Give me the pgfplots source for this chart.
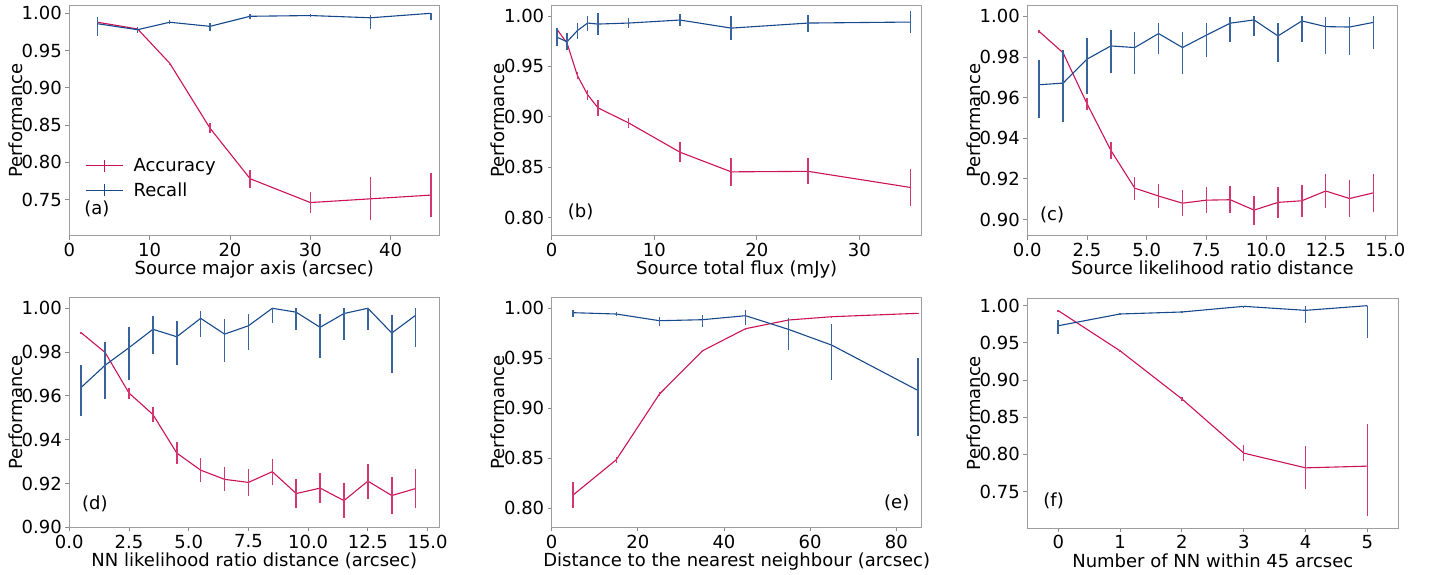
\documentclass[border=0pt]{standalone}
\usepackage{fontspec}
\setmainfont{DejaVu Sans}
\usepackage{pgfplots}
\pgfplotsset{compat=1.18}
\definecolor{accc}{RGB}{204,18,86}
\definecolor{recc}{RGB}{22,72,140}
\newcommand{\ff}{\fontsize{18}{21.6}\selectfont}
\pgfplotsset{
  perf/.style={scale only axis, width=370pt, height=230pt, anchor=north west,
    axis line style={draw=black!38, line width=0.8pt},
    tick style={black!45, line width=0.8pt}, major tick length=4pt, tick align=outside,
    xtick pos=lower, ytick pos=left,
    every tick label/.append style={font=\ff, black},
    label style={font=\ff},
    ylabel={Performance},
    ylabel style={at={(axis description cs:-0.127,0.5)}, anchor=base},
    xlabel style={at={(axis description cs:0.5,0)}, anchor=base, yshift=-39pt},
    yticklabel style={/pgf/number format/.cd, fixed, fixed zerofill, precision=2, assume math mode=true},
    xticklabel style={/pgf/number format/.cd, fixed, assume math mode=true},
  },
  acc/.style={color=accc, line width=1.1pt, mark=none,
    error bars/y dir=both, error bars/y explicit, error bars/error mark=none,
    error bars/error bar style={line width=1.5pt, accc!85}},
  rec/.style={color=recc, line width=1.1pt, mark=none,
    error bars/y dir=both, error bars/y explicit, error bars/error mark=none,
    error bars/error bar style={line width=1.5pt, recc!85}},
}
\pgfkeys{/pgfplots/table/tb/.style={x=x, y=y, y error plus=ep, y error minus=em}}
\begin{document}
\begin{tikzpicture}
\useasboundingbox (0,0) rectangle (1430pt,-574pt);
% (a)
\begin{axis}[perf, at={(69.3pt,-5.7pt)}, xmin=0, xmax=46.05, ymin=0.7015, ymax=1.0102,
  xtick={0,10,20,30,40}, ytick={0.75,0.80,0.85,0.90,0.95,1.00},
  xlabel={Source major axis (arcsec)},
  legend style={draw=none, fill=none, at={(axis description cs:0.035,0.355)}, anchor=north west,
    font=\ff, legend cell align=left, row sep=6pt}]
\addplot[acc, legend image code/.code={\draw[accc, line width=1.1pt] (0pt,0pt)--(37pt,0pt); \draw[accc, line width=1.4pt] (18.5pt,-6pt)--(18.5pt,6pt); \path (45pt,0pt);}] table[tb] {
x y ep em
3.5 0.988 0.002 0.002
8.5 0.979 0.002 0.002
12.5 0.933 0.002 0.002
17.5 0.846 0.007 0.007
22.5 0.778 0.012 0.012
30 0.746 0.014 0.014
37.5 0.751 0.029 0.029
45 0.756 0.030 0.030
};
\addplot[rec, legend image code/.code={\draw[recc, line width=1.1pt] (0pt,0pt)--(37pt,0pt); \draw[recc, line width=1.4pt] (18.5pt,-6pt)--(18.5pt,6pt); \path (45pt,0pt);}] table[tb] {
x y ep em
3.5 0.986 0.009 0.016
8.5 0.978 0.004 0.005
12.5 0.988 0.003 0.003
17.5 0.9825 0.004 0.006
22.5 0.996 0.003 0.003
30 0.997 0.002 0.002
37.5 0.994 0.0036 0.0157
45 1.000 0.000 0.009
};
\legend{Accuracy,Recall}
\node[anchor=west, inner sep=0pt, font=\ff] at (axis description cs:0.04,0.118) {(a)};
\end{axis}
% (b)
\begin{axis}[perf, at={(551.7pt,-5.7pt)}, xmin=0, xmax=36.07, ymin=0.7822, ymax=1.0102,
  xtick={0,10,20,30}, ytick={0.80,0.85,0.90,0.95,1.00},
  xlabel={Source total flux (mJy)}]
\addplot[acc] table[tb] {
x y ep em
0.5 0.987 0.001 0.001
1.5 0.973 0.003 0.003
2.5 0.941 0.0036 0.0036
3.5 0.922 0.005 0.005
4.5 0.909 0.008 0.008
7.5 0.894 0.005 0.005
12.5 0.865 0.010 0.010
17.5 0.8455 0.014 0.014
25 0.846 0.013 0.013
35 0.830 0.018 0.018
};
\addplot[rec] table[tb] {
x y ep em
0.5 0.979 0.009 0.009
1.5 0.9745 0.0087 0.0087
2.5 0.9855 0.008 0.008
3.5 0.993 0.0074 0.0074
4.5 0.992 0.0107 0.0107
7.5 0.993 0.005 0.005
12.5 0.996 0.006 0.006
17.5 0.988 0.012 0.012
25 0.993 0.0084 0.0084
35 0.994 0.011 0.011
};
\node[anchor=west, inner sep=0pt, font=\ff] at (axis description cs:0.043,0.104) {(b)};
\end{axis}
% (c)
\begin{axis}[perf, at={(1027.3pt,-5.7pt)}, xmin=0, xmax=15.5, ymin=0.892, ymax=1.0052,
  xtick={0,2.5,5,7.5,10,12.5,15}, ytick={0.90,0.92,0.94,0.96,0.98,1.00},
  xticklabel style={/pgf/number format/.cd, fixed, fixed zerofill, precision=1},
  xlabel={Source likelihood ratio distance}]
\addplot[acc] table[tb] {
x y ep em
0.5 0.9925 0.0005 0.0005
1.5 0.982 0.001 0.001
2.5 0.957 0.003 0.003
3.5 0.934 0.0043 0.0043
4.5 0.9154 0.0056 0.0056
5.5 0.9115 0.006 0.006
6.5 0.908 0.0063 0.0063
7.5 0.9095 0.0065 0.0065
8.5 0.9097 0.0066 0.0066
9.5 0.9046 0.0071 0.0071
10.5 0.9084 0.0075 0.0075
11.5 0.9092 0.008 0.008
12.5 0.914 0.0083 0.0083
13.5 0.9103 0.0089 0.0089
14.5 0.9131 0.0092 0.0092
};
\addplot[rec] table[tb] {
x y ep em
0.5 0.9663 0.0121 0.0164
1.5 0.9671 0.0162 0.0193
2.5 0.9789 0.0103 0.0170
3.5 0.9854 0.0079 0.0131
4.5 0.9846 0.0079 0.0129
5.5 0.9915 0.0052 0.0100
6.5 0.9846 0.0079 0.0129
7.5 0.9907 0.0059 0.0108
8.5 0.9966 0.0032 0.0094
9.5 0.9982 0.0018 0.0077
10.5 0.9903 0.0063 0.0130
11.5 0.9977 0.0023 0.0106
12.5 0.9949 0.0046 0.0134
13.5 0.9947 0.0048 0.0140
14.5 0.9970 0.0030 0.0130
};
\node[anchor=west, inner sep=0pt, font=\ff] at (axis description cs:0.034,0.092) {(c)};
\end{axis}
% (d)
\begin{axis}[perf, at={(69.3pt,-297.3pt)}, xmin=0, xmax=15.49, ymin=0.900, ymax=1.005,
  xtick={0,2.5,5,7.5,10,12.5,15}, ytick={0.90,0.92,0.94,0.96,0.98,1.00},
  xticklabel style={/pgf/number format/.cd, fixed, fixed zerofill, precision=1},
  xlabel={NN likelihood ratio distance (arcsec)}]
\addplot[acc] table[tb] {
x y ep em
0.5 0.9888 0.0005 0.0005
1.5 0.9798 0.001 0.001
2.5 0.9613 0.0025 0.0025
3.5 0.9515 0.0035 0.0035
4.5 0.9339 0.005 0.005
5.5 0.9261 0.0055 0.0055
6.5 0.9219 0.0055 0.0055
7.5 0.9205 0.006 0.006
8.5 0.9254 0.006 0.006
9.5 0.9154 0.0065 0.0065
10.5 0.9179 0.007 0.007
11.5 0.9122 0.008 0.008
12.5 0.9211 0.008 0.008
13.5 0.9145 0.0085 0.0085
14.5 0.9177 0.009 0.009
};
\addplot[rec] table[tb] {
x y ep em
0.5 0.9639 0.0101 0.0133
1.5 0.9740 0.0107 0.0154
2.5 0.9820 0.0093 0.0149
3.5 0.9904 0.0059 0.0112
4.5 0.9870 0.0072 0.0130
5.5 0.9954 0.0035 0.0087
6.5 0.9882 0.0068 0.0127
7.5 0.9920 0.0052 0.0111
8.5 1.0000 0.0000 0.0066
9.5 0.9982 0.0018 0.0080
10.5 0.9913 0.0063 0.0139
11.5 0.9976 0.0024 0.0120
12.5 1.0000 0.0000 0.0100
13.5 0.9887 0.0081 0.0182
14.5 0.9968 0.0032 0.0144
};
\node[anchor=west, inner sep=0pt, font=\ff] at (axis description cs:0.034,0.10) {(d)};
\end{axis}
% (e)
\begin{axis}[perf, at={(551.7pt,-297.3pt)}, xmin=0, xmax=85.9, ymin=0.781, ymax=1.011,
  xtick={0,20,40,60,80}, ytick={0.80,0.85,0.90,0.95,1.00},
  xlabel={Distance to the nearest neighbour (arcsec)}]
\addplot[acc] table[tb] {
x y ep em
5 0.8134 0.0126 0.0126
15 0.8486 0.003 0.003
25 0.9142 0.002 0.002
35 0.9575 0.001 0.001
45 0.9796 0.001 0.001
55 0.9883 0.0005 0.0005
65 0.9916 0.0005 0.0005
85 0.9950 0.0005 0.0005
};
\addplot[rec] table[tb] {
x y ep em
5 0.9956 0.003 0.004
15 0.9943 0.002 0.002
25 0.9876 0.004 0.005
35 0.9886 0.005 0.0075
45 0.9926 0.006 0.009
55 0.9789 0.0117 0.0208
65 0.9632 0.0211 0.0346
85 0.9179 0.0322 0.0455
};
\node[anchor=east, inner sep=0pt, font=\ff] at (axis description cs:0.967,0.107) {(e)};
\end{axis}
% (f)
\begin{axis}[perf, at={(1027.3pt,-298pt)}, width=371pt, xmin=-0.5, xmax=5.5, ymin=0.701, ymax=1.0103,
  xtick={0,1,2,3,4,5}, ytick={0.75,0.80,0.85,0.90,0.95,1.00},
  xlabel={Number of NN within 45 arcsec}]
\addplot[acc] table[tb] {
x y ep em
0 0.9933 0.0005 0.0005
1 0.9393 0.001 0.001
2 0.8746 0.003 0.003
3 0.8017 0.011 0.011
4 0.7819 0.029 0.029
5 0.7842 0.057 0.0675
};
\addplot[rec] table[tb] {
x y ep em
0 0.9730 0.0077 0.0117
1 0.9888 0.002 0.002
2 0.9915 0.002 0.002
3 0.9991 0.0009 0.002
4 0.9937 0.006 0.0175
5 1.0000 0.000 0.044
};
\node[anchor=west, inner sep=0pt, font=\ff] at (axis description cs:0.043,0.116) {(f)};
\end{axis}
\end{tikzpicture}
\end{document}
